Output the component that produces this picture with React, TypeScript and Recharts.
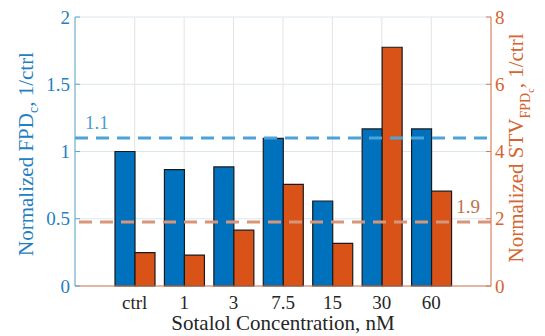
import React from 'react'
import { ComposedChart, Bar, XAxis, YAxis, CartesianGrid, ReferenceLine, Label } from 'recharts'

document.body.style.margin = '0'

const categories = ['ctrl', '1', '3', '7.5', '15', '30', '60']
const fpdValues = [1.0, 0.865, 0.885, 1.098, 0.632, 1.168, 1.168]
const stvValues = [0.99, 0.92, 1.66, 3.02, 1.27, 7.1, 2.82]
const leftTicks = [0, 0.5, 1, 1.5, 2]
const rightTicks = [0, 2, 4, 6, 8]
const fpdLine = 1.1
const stvLine = 1.9

const data = categories.map((name, i) => ({ name, fpd: fpdValues[i], stv: stvValues[i] }))

const FONT = 'Liberation Serif, Times New Roman, serif'
const BLUE = '#0072BD'
const ORANGE = '#D95319'
const BLUE_TEXT = '#1f80c2'
const ORANGE_TEXT = '#d4652f'
const BLUE_AXIS = '#5fa9cf'
const ORANGE_AXIS = '#d97a50'

const txt = (size: number) => ({ fontFamily: FONT, fontSize: size })

const LeftTick = (props: any) => {
  const { x, y, payload } = props
  return (
    <g>
      <line x1={x + 5} x2={x + 10} y1={y} y2={y} stroke={BLUE_AXIS} />
      <text x={x} y={y} dy={6.5} textAnchor="end" fill={BLUE_TEXT} style={txt(19)}>
        {payload.value}
      </text>
    </g>
  )
}

const RightTick = (props: any) => {
  const { x, y, payload } = props
  return (
    <g>
      <line x1={x - 9} x2={x - 4} y1={y} y2={y} stroke={ORANGE_AXIS} />
      <text x={x} y={y} dy={6.5} textAnchor="start" fill={ORANGE_TEXT} style={txt(19)}>
        {payload.value}
      </text>
    </g>
  )
}

const BottomTick = (props: any) => {
  const { x, y, payload } = props
  return (
    <text x={x} y={y} dy={21} textAnchor="middle" fill="#262626" style={txt(19)}>
      {payload.value}
    </text>
  )
}

const XTitle = (props: any) => {
  const vb = props.viewBox || { x: 75, y: 286, width: 416, height: 50 }
  return (
    <text x={vb.x + vb.width / 2} y={vb.y + 44} textAnchor="middle" fill="#262626" style={txt(21)}>
      Sotalol Concentration, nM
    </text>
  )
}

const LeftTitle = () => {
  const cx = 33
  const cy = 154
  return (
    <text x={cx} y={cy} transform={`rotate(-90, ${cx}, ${cy})`} textAnchor="middle" fill={BLUE_TEXT} style={txt(21)}>
      Normalized FPD
      <tspan dy={5} style={txt(14)}>c</tspan>
      <tspan dy={-5}>, 1/ctrl</tspan>
    </text>
  )
}

const RightTitle = () => {
  const cx = 523
  const cy = 148
  return (
    <text x={cx} y={cy} transform={`rotate(-90, ${cx}, ${cy})`} textAnchor="middle" fill={ORANGE_TEXT} style={txt(21)}>
      Normalized STV
      <tspan dy={7} style={txt(14)}>FPD</tspan>
      <tspan dy={4} style={txt(10)}>c</tspan>
      <tspan dy={-11} style={txt(21)}>, 1/ctrl</tspan>
    </text>
  )
}

const lineLabel = (text: string, color: string, side: 'left' | 'right') => (props: any) => {
  const vb = props.viewBox
  if (!vb) return null
  const x = side === 'left' ? vb.x + 10 : vb.x + vb.width - 11
  return (
    <text x={x} y={vb.y - 9} textAnchor={side === 'left' ? 'start' : 'end'} fill={color} style={txt(19)}>
      {text}
    </text>
  )
}

export default function App() {
  return (
    <ComposedChart
      width={545}
      height={336}
      data={data}
      margin={{ top: 17, right: 0, bottom: 0, left: 0 }}
      barGap={0}
    >
      <CartesianGrid xAxisId="bottom" yAxisId="left" vertical={false} stroke="#dbe7ee" />
      <CartesianGrid xAxisId="bottom" yAxisId="left" horizontal={false} stroke="#e3e3e3" />
      <XAxis
        xAxisId="bottom"
        dataKey="name"
        height={50}
        padding={{ left: 35, right: 35 }}
        tickSize={0}
        tickLine={false}
        tick={<BottomTick />}
        interval={0}
        axisLine={{ stroke: ORANGE_AXIS }}
      >
        <Label content={<XTitle />} />
      </XAxis>
      <XAxis
        xAxisId="top"
        dataKey="name"
        orientation="top"
        height={0}
        mirror
        padding={{ left: 35, right: 35 }}
        tick={false}
        tickSize={5}
        tickLine={{ stroke: '#262626' }}
        axisLine={{ stroke: '#262626' }}
        interval={0}
      />
      <YAxis
        yAxisId="left"
        domain={[0, 2]}
        ticks={leftTicks}
        width={75}
        tickSize={0}
        tickMargin={5}
        tickLine={false}
        tick={<LeftTick />}
        interval={0}
        axisLine={{ stroke: BLUE_AXIS }}
      />
      <YAxis
        yAxisId="right"
        orientation="right"
        domain={[0, 8]}
        ticks={rightTicks}
        width={54}
        tickSize={0}
        tickMargin={4}
        tickLine={false}
        tick={<RightTick />}
        interval={0}
        axisLine={{ stroke: ORANGE_AXIS }}
      />
      <Bar xAxisId="bottom" yAxisId="left" dataKey="fpd" fill={BLUE} stroke="#1a1a1a" strokeWidth={1.2} barSize={20} isAnimationActive={false} />
      <Bar xAxisId="bottom" yAxisId="right" dataKey="stv" fill={ORANGE} stroke="#1a1a1a" strokeWidth={1.2} barSize={20} isAnimationActive={false} />
      <ReferenceLine
        xAxisId="bottom"
        yAxisId="left"
        y={fpdLine}
        stroke="#4da3d8"
        strokeWidth={3}
        strokeDasharray="13 8"
        label={lineLabel(String(fpdLine), '#4a9bd0', 'left')}
      />
      <ReferenceLine
        xAxisId="bottom"
        yAxisId="right"
        y={stvLine}
        stroke="#d8957a"
        strokeWidth={3}
        strokeDasharray="13 8"
        label={lineLabel(String(stvLine), '#c0704a', 'right')}
      />
      <LeftTitle />
      <RightTitle />
    </ComposedChart>
  )
}
